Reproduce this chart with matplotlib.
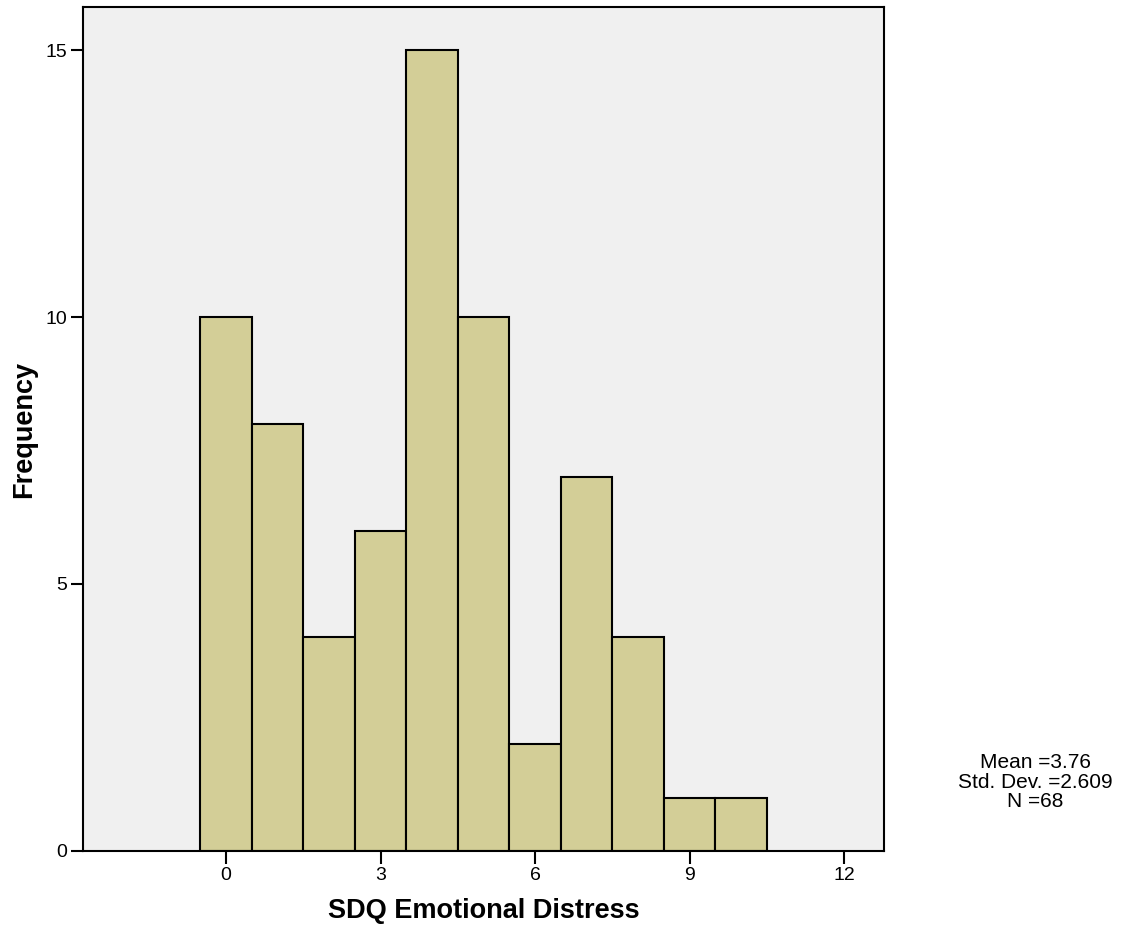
import matplotlib
matplotlib.use('Agg')
import matplotlib.pyplot as plt

# histogram counts for each score (bin width 1, centred on the integer)
scores = [0, 1, 2, 3, 4, 5, 6, 7, 8, 9, 10]
counts = [10, 8, 4, 6, 15, 10, 2, 7, 4, 1, 1]
x_ticks = [0, 3, 6, 9, 12]
y_ticks = [0, 5, 10, 15]
stats_lines = ['Mean =3.76', 'Std. Dev. =2.609', 'N =68']

plt.rcParams['font.family'] = ['Liberation Sans', 'DejaVu Sans']

fig = plt.figure(figsize=(11.22, 9.32), dpi=100)
ax = fig.add_axes([0.074, 0.087, 0.714, 0.905])
ax.set_facecolor('#f0f0f0')

ax.bar(scores, counts, width=1.0, color='#d3ce97', edgecolor='black', linewidth=1.5)

ax.set_xlim(-2.78, 12.78)
ax.set_ylim(0, 15.8)
ax.set_xticks(x_ticks)
ax.set_yticks(y_ticks)
ax.tick_params(axis='both', direction='out', length=9, width=1.5, labelsize=14, pad=2.5)

for sp in ax.spines.values():
    sp.set_linewidth(1.5)

ax.set_xlabel('SDQ Emotional Distress', fontsize=19.5, fontweight='bold', labelpad=10)
ax.set_ylabel('Frequency', fontsize=19.5, fontweight='bold', labelpad=6)

fig.text(1035 / 1122, 1 - 782 / 932, '\n'.join(stats_lines), ha='center', va='center',
         fontsize=15, linespacing=1.02)

fig.savefig('out.png', dpi=100)
plt.close(fig)
